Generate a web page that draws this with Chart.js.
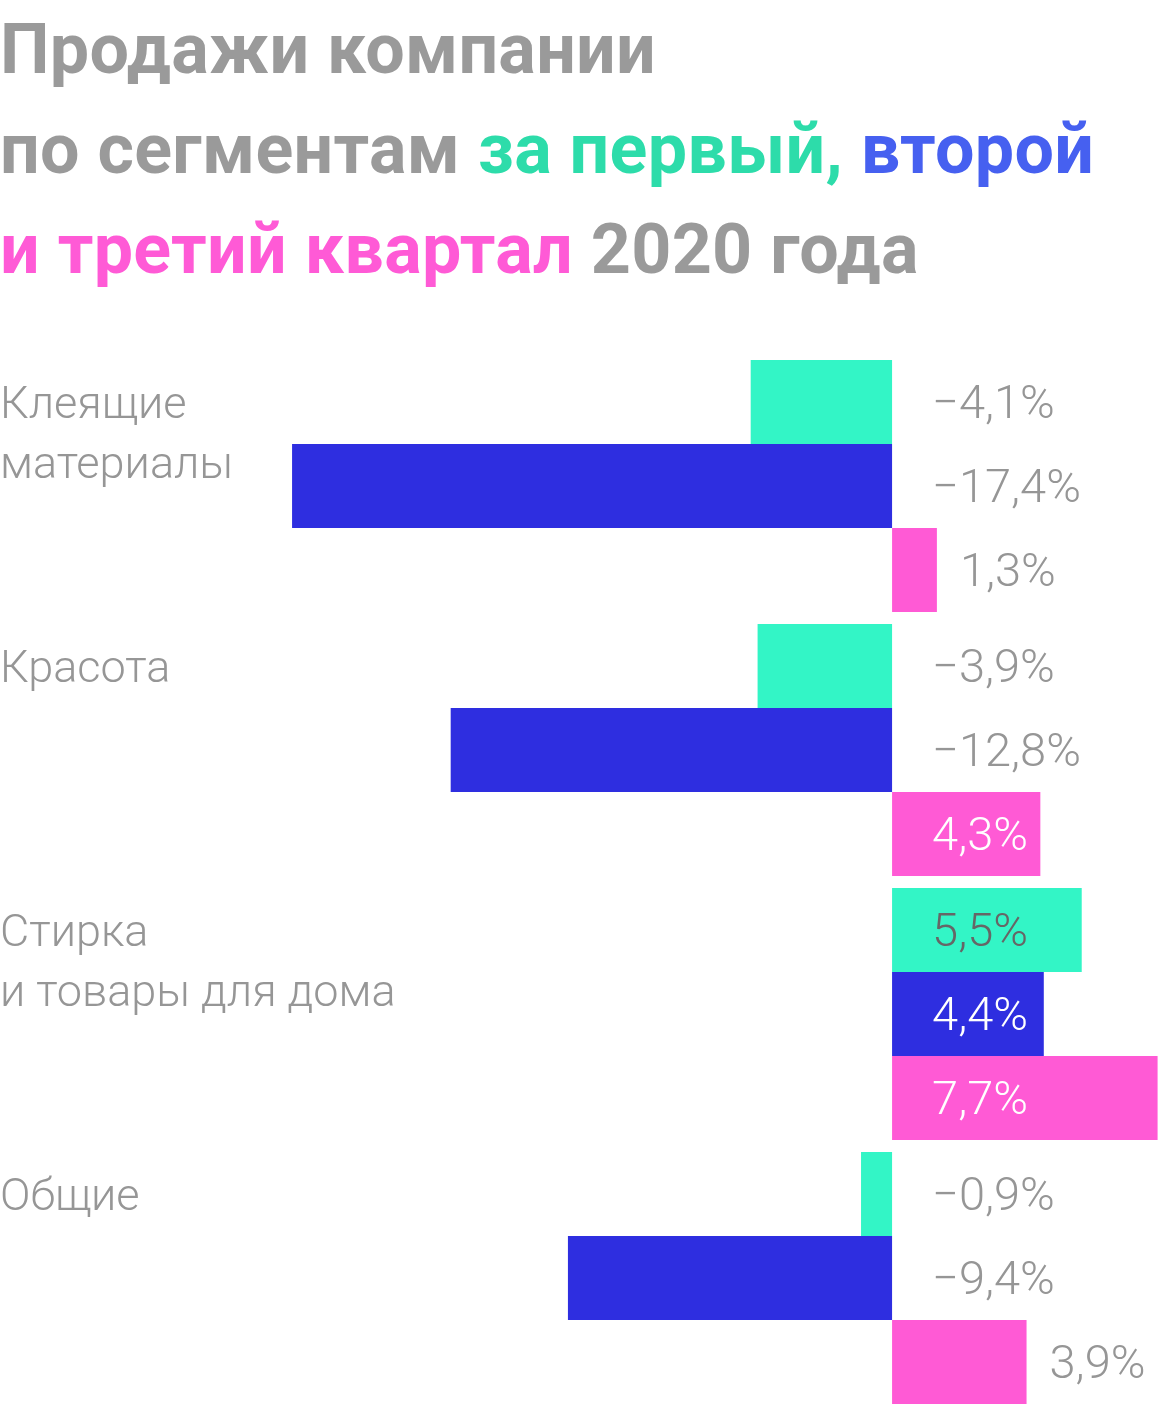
<!DOCTYPE html>
<html lang="ru">
<head>
<meta charset="utf-8">
<script src="https://cdn.jsdelivr.net/npm/chart.js@4"></script>
<style>
  html, body { margin: 0; padding: 0; background: #fff; overflow: hidden; }
  body { width: 1160px; height: 1408px; position: relative; }
  #title {
    position: absolute; left: 0; top: -1px;
    font-family: Roboto, sans-serif; font-weight: 700;
    font-size: 70px; line-height: 100px; color: #9a9a9a;
    letter-spacing: 0.3px;
    white-space: nowrap;
  }
  .q1 { color: #2ddcaa; }
  .q2 { color: #4660f0; }
  .q3 { color: #ff5ad6; }
  #wrap { position: absolute; left: 0; top: 354px; }
</style>
</head>
<body>
<div id="title">Продажи компании<br>по сегментам <span class="q1">за первый,</span> <span class="q2">второй</span><br><span class="q3">и третий квартал</span> 2020 года</div>
<div id="wrap"><canvas id="salesChart" width="1160" height="1056"></canvas></div>
<script>
  // segments (each label split into lines)
  const categories = [
    ["Клеящие", "материалы"],
    ["Красота"],
    ["Стирка", "и товары для дома"],
    ["Общие"],
  ];
  // change in sales, %
  const q1Values = [-4.1, -3.9, 5.5, -0.9];
  const q2Values = [-17.4, -12.8, 4.4, -9.4];
  const q3Values = [1.3, 4.3, 7.7, 3.9];

  const colors = ["#33f5c6", "#2e2ee0", "#ff5ad5"];
  const insideText = ["#666666", "#ffffff", "#ffffff"];

  function fmt(v) {
    const s = Math.abs(v).toFixed(1).replace(".", ",") + "%";
    return v < 0 ? "\u2212" + s : s;
  }

  const labelsPlugin = {
    id: "segmentLabels",
    afterDatasetsDraw(chart) {
      const ctx = chart.ctx;
      ctx.save();
      ctx.textBaseline = "alphabetic";
      ctx.textAlign = "left";

      // category names at the left, aligned to the first bar of each group
      ctx.font = "300 45px Roboto, sans-serif";
      const first = chart.getDatasetMeta(0);
      categories.forEach(function (lines, i) {
        const y0 = first.data[i].y;
        ctx.fillStyle = "#969696";
        lines.forEach(function (line, k) {
          ctx.fillText(line, 0, y0 + 16 + k * 60);
        });
      });

      // values
      ctx.font = "300 47px Roboto, sans-serif";
      chart.data.datasets.forEach(function (ds, d) {
        const meta = chart.getDatasetMeta(d);
        meta.data.forEach(function (bar, i) {
          const v = ds.data[i];
          const text = fmt(v);
          const w = ctx.measureText(text).width;
          const y = bar.y + 16;
          let x = bar.base + 40;
          ctx.fillStyle = "#969696";
          if (v > 0) {
            if (x + w + 8 <= bar.x) {
              ctx.fillStyle = insideText[d];
            } else {
              x = bar.x + 23;
            }
          }
          ctx.fillText(text, x, y);
        });
      });
      ctx.restore();
    },
  };

  const ctx = document.getElementById("salesChart").getContext("2d");

  new Chart(ctx, {
    type: "bar",
    data: {
      labels: categories,
      datasets: [
        { label: "I квартал", data: q1Values, backgroundColor: colors[0] },
        { label: "II квартал", data: q2Values, backgroundColor: colors[1] },
        { label: "III квартал", data: q3Values, backgroundColor: colors[2] },
      ],
    },
    options: {
      indexAxis: "y",
      responsive: false,
      animation: false,
      devicePixelRatio: 1,
      layout: { padding: 0 },
      datasets: {
        bar: {
          categoryPercentage: 252 / 264,
          barPercentage: 1,
          borderWidth: 0,
        },
      },
      plugins: {
        legend: { display: false },
        tooltip: { enabled: false },
        title: { display: false },
      },
      scales: {
        x: { display: false, min: -25.87, max: 7.77 },
        y: { display: false },
      },
    },
    plugins: [labelsPlugin],
  });
</script>
</body>
</html>
